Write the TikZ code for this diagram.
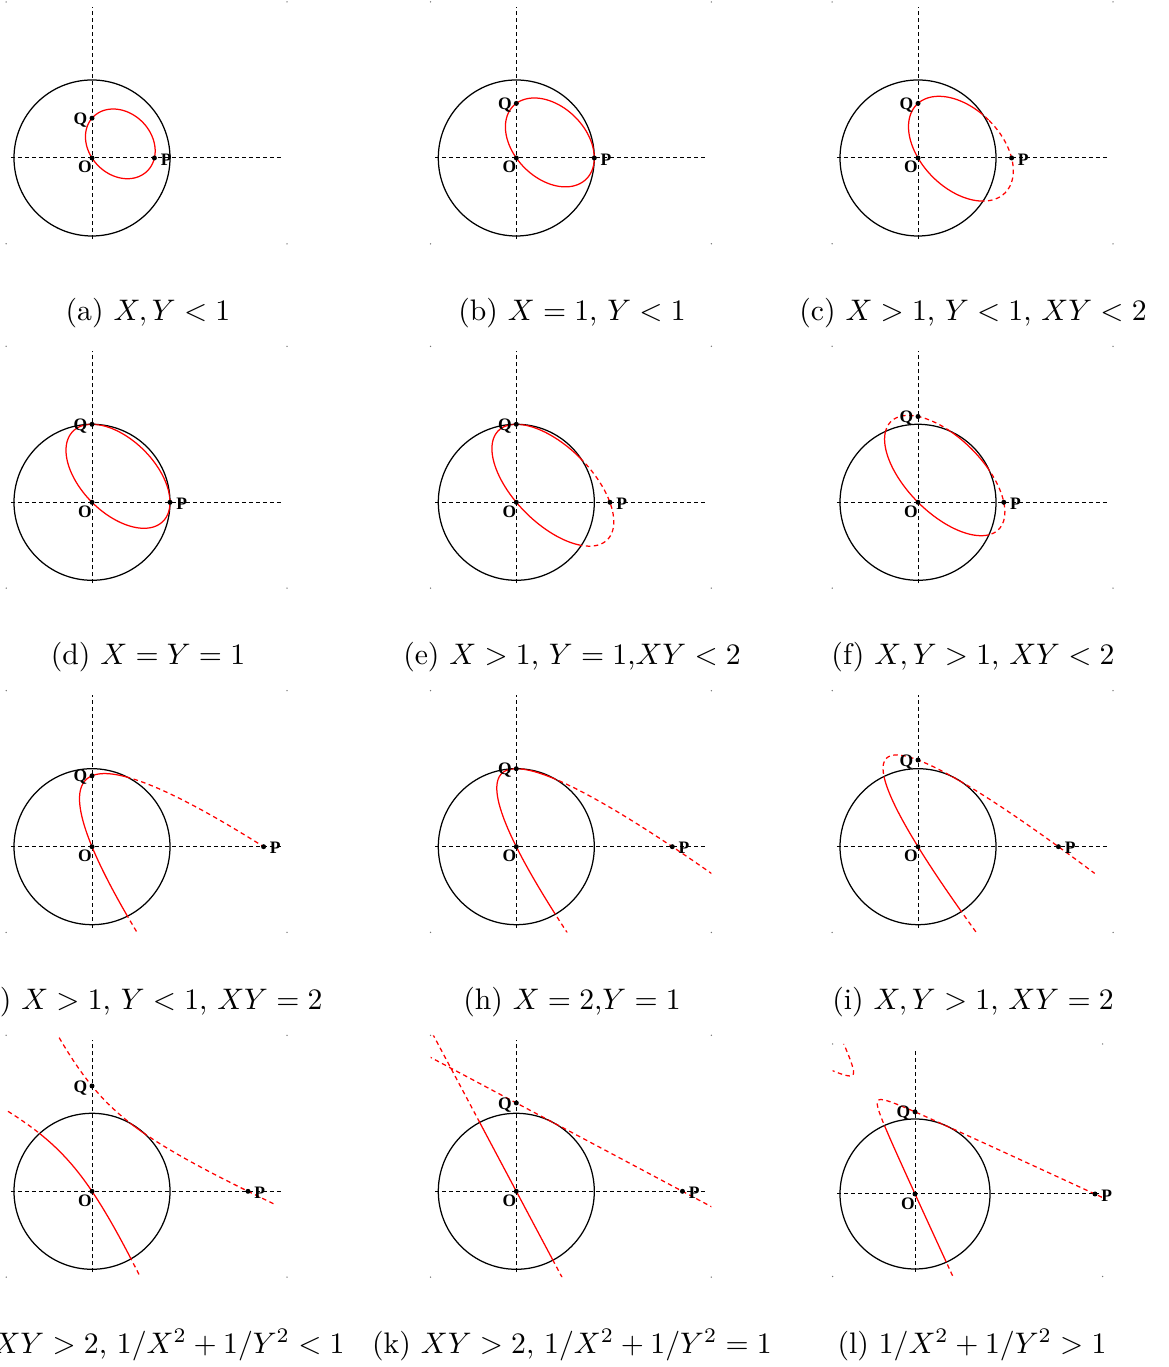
\documentclass[tikz,border=0pt]{standalone}
\usepackage{fontspec}
\newfontfamily\labfont{Liberation Serif}
\tikzset{
  axisline/.style={line width=1pt, dash pattern=on 4pt off 3pt},
  circline/.style={line width=1.25pt},
  redsolid/.style={red, line width=1.25pt},
  reddash/.style={red, line width=1.25pt, dash pattern=on 4.5pt off 3.5pt},
  dotpt/.style={circle, fill=black, inner sep=0pt, minimum size=5pt},
  lab/.style={font=\labfont\bfseries\fontsize{17.5}{18}\selectfont, inner sep=0pt},
  captxt/.style={anchor=base, inner sep=0pt, scale=2.97},
}
\newcommand{\panelbase}{%
  \draw[axisline] (-1.04,0) -- (2.45,0);
  \draw[axisline] (0,-1.04) -- (0,1.94);
  \draw[circline] (0,0) circle (1);
  \foreach \ux/\uy in {-1.1/-1.1,2.5/-1.1,-1.1/2,2.5/2}{\fill[black!55] (\ux,\uy) circle (0.75pt);}
}
\newcommand{\conicpath}[1]{%
  \begin{scope}\clip (0,0) circle (1); \draw[redsolid] #1; \end{scope}
  \begin{scope}\clip (-1.1,-1.1) -- (2.5,-1.1) -- (2.5,2) -- (-1.1,2) -- cycle (1,0) arc[start angle=0,end angle=-360,radius=1] -- cycle;
    \draw[reddash] #1; \end{scope}
}
\newcommand{\ptsandlabels}[2]{%
  \node[dotpt] (O) at (0,0) {};
  \node[dotpt] (P) at (#1,0) {};
  \node[dotpt] (Q) at (0,#2) {};
  \node[lab] (Ol) at ([shift={(-7pt,-9.3pt)}]O.center) {O};
  \node[lab] (Pl) at ([shift={(11.7pt,-1.3pt)}]P.center) {P};
  \node[lab] (Ql) at ([shift={(-11.5pt,-1.7pt)}]Q.center) {Q};
}
\newcommand{\cnsetup}[2]{%
  \pgfmathsetmacro\cnX{#1}\pgfmathsetmacro\cnY{#2}%
  \pgfmathsetmacro\cnk{\cnX*\cnY}%
  \pgfmathsetmacro\cnD{4-\cnk*\cnk}%
  \pgfmathsetmacro\cnxc{(2*\cnX-\cnk*\cnY)/(\cnD)}%
  \pgfmathsetmacro\cnyc{(2*\cnY-\cnk*\cnX)/(\cnD)}%
  \pgfmathsetmacro\cnF{(\cnk*\cnk-\cnX*\cnX-\cnY*\cnY)/(\cnD)}%
  \pgfmathsetmacro\cnla{1+\cnk/2}%
  \pgfmathsetmacro\cnlb{1-\cnk/2}%
}
\newcommand{\ellpanel}[2]{%
  \cnsetup{#1}{#2}%
  \pgfmathsetmacro\cna{sqrt(-(\cnF)/(\cnla))}%
  \pgfmathsetmacro\cnb{sqrt(-(\cnF)/(\cnlb))}%
  \conicpath{plot[variable=\t,domain=0:360,samples=241] ({\cnxc+(\cna*cos(\t)+\cnb*sin(\t))/1.41421},{\cnyc+(\cna*cos(\t)-\cnb*sin(\t))/1.41421})}%
}
\newcommand{\parpanel}[4]{%
  \pgfmathsetmacro\cnX{#1}\pgfmathsetmacro\cnY{#2}%
  \pgfmathsetmacro\cnA{2*sqrt(2)/(\cnX-\cnY)}%
  \pgfmathsetmacro\cnB{(\cnX+\cnY)/(\cnX-\cnY)}%
  \conicpath{plot[variable=\t,domain=#3:#4,samples=240] ({((\t)+\cnA*(\t)*(\t)-\cnB*(\t))/1.41421},{((\t)-\cnA*(\t)*(\t)+\cnB*(\t))/1.41421})}%
}
\begin{document}
\begin{tikzpicture}[x=1pt,y=1pt]
\useasboundingbox (0,0) rectangle (1168,1367);

% (a)
\begin{scope}[shift={(92pt,1209pt)}, x=78pt, y=78pt, name prefix=a-]
  \panelbase
  \ellpanel{0.8}{0.51}
  \ptsandlabels{0.8}{0.51}
\end{scope}
% (b)
\begin{scope}[shift={(516.3pt,1209pt)}, x=78pt, y=78pt, name prefix=b-]
  \panelbase
  \ellpanel{1}{0.7}
  \ptsandlabels{1}{0.7}
\end{scope}
% (c)
\begin{scope}[shift={(918pt,1209pt)}, x=78pt, y=78pt, name prefix=c-]
  \panelbase
  \ellpanel{1.2}{0.7}
  \ptsandlabels{1.2}{0.7}
\end{scope}
% (d)
\begin{scope}[shift={(92pt,864.7pt)}, x=78pt, y=78pt, name prefix=d-]
  \panelbase
  \ellpanel{1}{1}
  \ptsandlabels{1}{1}
\end{scope}
% (e)
\begin{scope}[shift={(516.3pt,864.7pt)}, x=78pt, y=78pt, name prefix=e-]
  \panelbase
  \ellpanel{1.2}{1}
  \ptsandlabels{1.2}{1}
\end{scope}
% (f)
\begin{scope}[shift={(918pt,864.7pt)}, x=78pt, y=78pt, name prefix=f-]
  \panelbase
  \ellpanel{1.1}{1.1}
  \ptsandlabels{1.1}{1.1}
\end{scope}
% (g)
\begin{scope}[shift={(92pt,520.3pt)}, x=78pt, y=78pt, name prefix=g-]
  \panelbase
  \parpanel{2.2}{0.90909}{-1}{1.5556}
  \ptsandlabels{2.2}{0.90909}
\end{scope}
% (h)
\begin{scope}[shift={(516.3pt,520.3pt)}, x=78pt, y=78pt, name prefix=h-]
  \panelbase
  \parpanel{2}{1}{-1}{1.75}
  \ptsandlabels{2}{1}
\end{scope}
% (i)
\begin{scope}[shift={(918pt,520.3pt)}, x=78pt, y=78pt, name prefix=i-]
  \panelbase
  \parpanel{1.8}{1.11111}{-1}{1.36}
  \ptsandlabels{1.8}{1.11111}
\end{scope}
% (j)
\begin{scope}[shift={(92pt,175.7pt)}, x=78pt, y=78pt, name prefix=j-]
  \panelbase
  \cnsetup{2}{1.35}
  \pgfmathsetmacro\cna{sqrt(-(\cnF)/(\cnla))}
  \pgfmathsetmacro\cnb{sqrt((\cnF)/(\cnlb))}
  \conicpath{plot[variable=\t,domain=-1.3:1.52,samples=200] ({\cnxc+(\cna*cosh(\t)+\cnb*sinh(\t))/1.41421},{\cnyc+(\cna*cosh(\t)-\cnb*sinh(\t))/1.41421})
             plot[variable=\t,domain=-2.3:2.3,samples=240] ({\cnxc+(-1*\cna*cosh(\t)+\cnb*sinh(\t))/1.41421},{\cnyc+(-1*\cna*cosh(\t)-\cnb*sinh(\t))/1.41421})}
  \ptsandlabels{2}{1.35}
\end{scope}
% (k)
\begin{scope}[shift={(516.3pt,175.7pt)}, x=78pt, y=78pt, name prefix=k-]
  \panelbase
  \conicpath{(1.408,-2.649) -- (-1.408,2.649) (4.26,-1.13258) -- (-2.13,2.26516)}
  \ptsandlabels{2.13}{1.13258}
\end{scope}
% (l)
\begin{scope}[shift={(915pt,173pt)}, x=75pt, y=75pt, name prefix=l-]
  \panelbase
  \cnsetup{2.4}{1.095}
  \pgfmathsetmacro\cna{sqrt((\cnF)/(\cnla))}
  \pgfmathsetmacro\cnb{sqrt(-(\cnF)/(\cnlb))}
  \conicpath{plot[variable=\t,domain=-3.6:3.6,samples=360] ({\cnxc+(\cna*sinh(\t)+\cnb*cosh(\t))/1.41421},{\cnyc+(\cna*sinh(\t)-\cnb*cosh(\t))/1.41421})
             plot[variable=\t,domain=-3.6:3.6,samples=360] ({\cnxc+(\cna*sinh(\t)-\cnb*cosh(\t))/1.41421},{\cnyc+(\cna*sinh(\t)+\cnb*cosh(\t))/1.41421})}
  \ptsandlabels{2.4}{1.095}
\end{scope}

% captions
\node[captxt] (capa) at (148,1046.5) {(a) $X,Y<1$};
\node[captxt] (capb) at (572,1046.5) {(b) $X=1$, $Y<1$};
\node[captxt] (capc) at (973,1046.5) {(c) $X>1$, $Y<1$, $XY<2$};
\node[captxt] (capd) at (148,702.1) {(d) $X=Y=1$};
\node[captxt] (cape) at (572,702.1) {(e) $X>1$, $Y=1$,$XY<2$};
\node[captxt] (capf) at (973,702.1) {(f) $X,Y>1$, $XY<2$};
\node[captxt] (capg) at (148,357.7) {(g) $X>1$, $Y<1$, $XY=2$};
\node[captxt] (caph) at (572,357.7) {(h) $X=2$,$Y=1$};
\node[captxt] (capi) at (973,357.7) {(i) $X,Y>1$, $XY=2$};
\node[captxt] (capj) at (148,13.3) {(j) $XY>2$, $1/X^2+1/Y^2<1$};
\node[captxt] (capk) at (572,13.3) {(k) $XY>2$, $1/X^2+1/Y^2=1$};
\node[captxt] (capl) at (972,13.3) {(l) $1/X^2+1/Y^2>1$};
\end{tikzpicture}
\end{document}
